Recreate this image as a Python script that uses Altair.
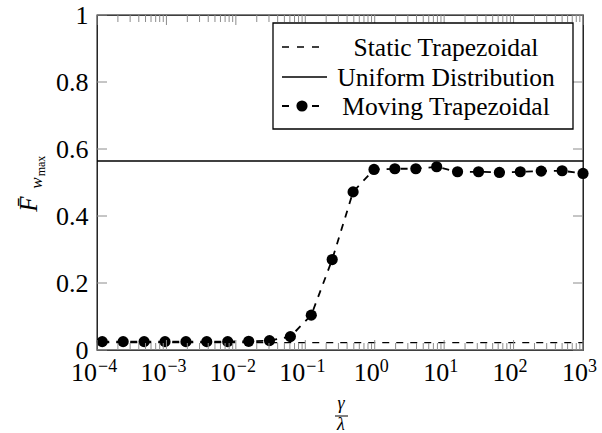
import altair as alt
import pandas as pd

# ---- data ----
gamma_over_lambda = [1.19e-4, 2.38e-4, 4.77e-4, 9.54e-4, 1.91e-3, 3.81e-3, 7.63e-3,
                     0.0153, 0.0305, 0.061, 0.122, 0.244, 0.488, 0.977, 1.95, 3.91,
                     7.81, 15.6, 31.3, 62.5, 125, 250, 500, 1000]
moving_trapezoidal = [0.025, 0.025, 0.025, 0.025, 0.025, 0.025, 0.025, 0.026, 0.028,
                      0.04, 0.104, 0.27, 0.472, 0.539, 0.541, 0.541, 0.547, 0.532,
                      0.532, 0.530, 0.532, 0.534, 0.535, 0.527]
static_trapezoidal = [0.022] * len(gamma_over_lambda)
uniform_x = [1e-4, 1e3]
uniform_y = [0.564, 0.564]

major_x = [1e-4, 1e-3, 1e-2, 1e-1, 1, 10, 100, 1000]
x_exponents = [-4, -3, -2, -1, 0, 1, 2, 3]
minor_mult = [2, 3, 4, 5, 6, 7, 8, 9]
minor_decades = [1e-4, 1e-3, 1e-2, 1e-1, 1, 10, 100]
y_ticks = [0, 0.2, 0.4, 0.6, 0.8, 1.0]
legend_labels = ["Static Trapezoidal", "Uniform Distribution", "Moving Trapezoidal"]

# ---- tables ----
df_static = pd.DataFrame({"x": gamma_over_lambda, "y": static_trapezoidal})
df_moving = pd.DataFrame({"x": gamma_over_lambda, "y": moving_trapezoidal})
df_uniform = pd.DataFrame({"x": uniform_x, "y": uniform_y})
df_major = pd.DataFrame({"x": major_x})
df_minor = pd.DataFrame({"x": [d * m for d in minor_decades for m in minor_mult]})
df_yt = pd.DataFrame({"y": y_ticks})
one = pd.DataFrame({"a": [0]})

W, H = 486, 335
FONT = "Liberation Serif"
TICKC = "#8c8c8c"

xs = alt.Scale(type="log", domain=[1e-4, 1e3], nice=False)
ys = alt.Scale(domain=[0, 1], nice=False)
x_axis = alt.Axis(values=major_x, labels=False, title="",
                  domain=False, ticks=False, grid=False)
y_axis = alt.Axis(values=y_ticks, format="~g", title="", labelFont=FONT,
                  labelFontSize=26, labelPadding=9, labelColor="black",
                  domain=False, ticks=False, grid=False, labelFlush=False)
X = alt.X("x:Q", scale=xs, axis=x_axis)
Y = alt.Y("y:Q", scale=ys, axis=y_axis)

static_line = alt.Chart(df_static).mark_line(
    color="black", strokeWidth=1.3, strokeDash=[7, 7]).encode(x=X, y=Y)
uniform_line = alt.Chart(df_uniform).mark_line(
    color="black", strokeWidth=1.6).encode(x=X, y=Y)
moving_line = alt.Chart(df_moving).mark_line(
    color="black", strokeWidth=1.8, strokeDash=[7, 7]).encode(x=X, y=Y)
moving_pts = alt.Chart(df_moving).mark_circle(
    color="black", size=125, opacity=1).encode(x=X, y=Y)

# x tick labels 10^e  (base and raised exponent)
x_label_layers = []
for v, e in zip(major_x, x_exponents):
    neg = e < 0
    exp_txt = ("\u2212" + str(-e)) if neg else str(e)
    dfv = pd.DataFrame({"x": [v]})
    base = alt.Chart(dfv).mark_text(
        font=FONT, fontSize=26, align="right", baseline="alphabetic", color="black",
        text="10", dx=(0 if neg else 5)).encode(x=X, y=alt.value(H + 31))
    sup = alt.Chart(dfv).mark_text(
        font=FONT, fontSize=18, align="left", baseline="alphabetic", color="black",
        text=exp_txt, dx=(1 if neg else 5)).encode(x=X, y=alt.value(H + 22))
    x_label_layers += [base, sup]

# inward ticks (pgfplots style)
def xticks(df, length, width):
    bot = alt.Chart(df).mark_rule(color=TICKC, strokeWidth=width).encode(
        x=X, y=alt.value(H), y2=alt.value(H - length))
    top = alt.Chart(df).mark_rule(color=TICKC, strokeWidth=width).encode(
        x=X, y=alt.value(0), y2=alt.value(length))
    return [bot, top]

yt_left = alt.Chart(df_yt).mark_rule(color=TICKC, strokeWidth=1).encode(
    y=Y, x=alt.value(0), x2=alt.value(10))
yt_right = alt.Chart(df_yt).mark_rule(color=TICKC, strokeWidth=1).encode(
    y=Y, x=alt.value(W - 10), x2=alt.value(W))

# legend
leg_box = alt.Chart(one).mark_rect(fill="white", stroke="black", strokeWidth=1.3).encode(
    x=alt.value(176), x2=alt.value(476), y=alt.value(8), y2=alt.value(114))
row_y = [32, 62, 91]
leg_static = alt.Chart(one).mark_rule(color="black", strokeWidth=1.3, strokeDash=[7, 8]).encode(
    x=alt.value(185), x2=alt.value(224), y=alt.value(row_y[0]))
leg_uniform = alt.Chart(one).mark_rule(color="black", strokeWidth=1.6).encode(
    x=alt.value(185), x2=alt.value(230), y=alt.value(row_y[1]))
leg_moving = alt.Chart(one).mark_rule(color="black", strokeWidth=1.8, strokeDash=[7, 8]).encode(
    x=alt.value(185), x2=alt.value(223), y=alt.value(row_y[2]))
leg_dot = alt.Chart(one).mark_circle(color="black", size=125, opacity=1).encode(
    x=alt.value(205), y=alt.value(row_y[2]))
leg_texts = [
    alt.Chart(one).mark_text(font=FONT, fontSize=25.5, align="center", baseline="middle",
                             color="black", text=lbl).encode(
        x=alt.value(349), y=alt.value(ry + 1))
    for lbl, ry in zip(legend_labels, row_y)
]

# y title  F̄_{w_max}
yt_F = alt.Chart(one).mark_text(font=FONT, fontSize=25, fontStyle="italic", angle=270,
                                align="center", baseline="alphabetic", color="black",
                                text="F\u0304").encode(x=alt.value(-60), y=alt.value(189))
yt_w = alt.Chart(one).mark_text(font=FONT, fontSize=17, fontStyle="italic", angle=270,
                                align="center", baseline="alphabetic", color="black",
                                text="w").encode(x=alt.value(-55), y=alt.value(168))
yt_max = alt.Chart(one).mark_text(font=FONT, fontSize=12, angle=270,
                                  align="center", baseline="alphabetic", color="black",
                                  text="max").encode(x=alt.value(-52), y=alt.value(151))

# x title  γ / λ
xt_g = alt.Chart(one).mark_text(font=FONT, fontSize=18, fontStyle="italic",
                                align="center", baseline="alphabetic", color="black",
                                text="\u03b3").encode(x=alt.value(244), y=alt.value(394))
xt_bar = alt.Chart(one).mark_rule(color="black", strokeWidth=1).encode(
    x=alt.value(238), x2=alt.value(251), y=alt.value(401))
xt_l = alt.Chart(one).mark_text(font=FONT, fontSize=18, fontStyle="italic",
                                align="center", baseline="alphabetic", color="black",
                                text="\u03bb").encode(x=alt.value(244), y=alt.value(415))

layers = ([static_line, uniform_line, moving_line, moving_pts]
          + xticks(df_major, 10, 1) + xticks(df_minor, 7, 1)
          + [yt_left, yt_right, leg_box, leg_static, leg_uniform, leg_moving, leg_dot]
          + leg_texts + x_label_layers + [yt_F, yt_w, yt_max, xt_g, xt_bar, xt_l])

chart = alt.layer(*layers).properties(
    width=W, height=H,
    autosize=alt.AutoSizeParams(type="none"),
    padding={"left": 97, "top": 15, "right": 19, "bottom": 83},
    background="white",
).configure_view(stroke="black", strokeWidth=1.3)

chart.save("out.html", embed_options={"renderer": "svg", "actions": False})
